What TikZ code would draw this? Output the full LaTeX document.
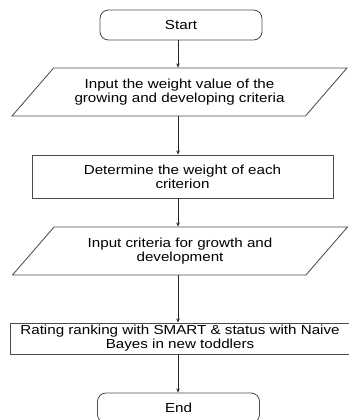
\documentclass[tikz,border=0pt]{standalone}
\usepackage{fontspec}
\setmainfont[FakeStretch=1.16]{Liberation Sans}
\usetikzlibrary{shapes.geometric, arrows.meta}

\tikzset{
	flowline/.style={draw=black!70, line width=0.6pt},
	terminal/.style={flowline, rounded corners=6pt, minimum width=162*0.025cm, minimum height=30*0.025cm, inner sep=0pt},
	process/.style={flowline, minimum height=43*0.025cm, inner sep=0pt, align=center},
	inout/.style={flowline, trapezium, trapezium left angle=32, trapezium right angle=148, trapezium stretches body, minimum width=335*0.025cm, minimum height=48*0.025cm, inner sep=0pt, align=center},
	flowarrow/.style={->, >={Stealth[length=3pt,width=2.5pt]}, black!85, line width=0.6pt}
}

\begin{document}
\begin{tikzpicture}[x=0.025cm, y=-0.025cm, font=\fontsize{9.3}{9.8}\selectfont]
			\useasboundingbox (0, 0) rectangle (348, 420);

			\node[terminal]	(start)		at (181, 25)	{Start};
			\node[inout]	(weights)	at (179.5, 92)	{Input the weight value of the\\growing and developing criteria};
			\node[process, minimum width=301*0.025cm]	(determine)	at (182.5, 176.5)	{Determine the weight of each\\criterion};
			\node[inout]	(criteria)	at (180, 251)	{Input criteria for growth and\\development};
			\node[process, minimum width=340*0.025cm, minimum height=31*0.025cm]	(rating)	at (180, 338.5)	{Rating ranking with SMART \& status with Naive\\Bayes in new toddlers};
			\node[terminal]	(end)		at (178.5, 408)	{End};

			% all arrows run down one line
			\coordinate (axis) at (178, 0);
			\draw[flowarrow]	(start.south -| axis) to (weights.north -| axis);
			\draw[flowarrow]	(weights.south -| axis) to (determine.north -| axis);
			\draw[flowarrow]	(determine.south -| axis) to (criteria.north -| axis);
			\draw[flowarrow]	(criteria.south -| axis) to (rating.north -| axis);
			\draw[flowarrow]	(rating.south -| axis) to (end.north -| axis);
		\end{tikzpicture}
\end{document}
